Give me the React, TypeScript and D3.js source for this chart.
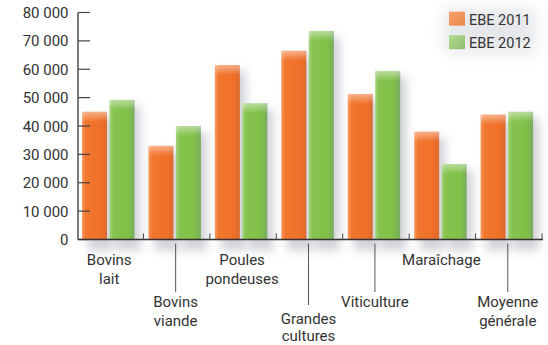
import React from "react";
import * as d3 from "d3";

const categories = ["Bovins lait", "Bovins viande", "Poules pondeuses", "Grandes cultures", "Viticulture", "Maraîchage", "Moyenne générale"];
const labelLines = [["Bovins", "lait"], ["Bovins", "viande"], ["Poules", "pondeuses"], ["Grandes", "cultures"], ["Viticulture"], ["Maraîchage"], ["Moyenne", "générale"]];
const labelLevel = [0, 1, 0, 2, 1, 0, 1];
const series = ["EBE 2011", "EBE 2012"];
const ebe2011 = [45000, 33000, 61500, 66500, 51300, 38000, 44000];
const ebe2012 = [49200, 40000, 48000, 73500, 59400, 26600, 45000];
const yTicks = [0, 10000, 20000, 30000, 40000, 50000, 60000, 70000, 80000];

const W = 548, H = 345;
const axisX = 78, axisRight = 543, baseY = 239.5, topY = 12.5;

export default function App() {
  const x = d3.scaleBand<string>().domain(categories).range([axisX, axisRight]).paddingInner(0).paddingOuter(0);
  const inner = d3.scaleBand<string>().domain(series).range([4, 56.5]).paddingInner(0.0909);
  const y = d3.scaleLinear().domain([0, 80000]).range([baseY, topY]);
  const fmt = (v: number) => d3.format(",")(v).replace(/,/g, " ");
  const colors = ["orange", "green"];
  const data = [ebe2011, ebe2012];
  const font = "Roboto, 'DejaVu Sans', sans-serif";
  const levelText = [[265, 284], [307, 326], [324, 341]];
  const levelLine = [0, 292, 305];
  const boundaries = categories.map((c) => (x(c) as number) + x.bandwidth());

  return (
    <svg width={W} height={H} style={{ position: "absolute", left: 0, top: 0 }} fontFamily={font}>
      <defs>
        <filter id="blur" x="-50%" y="-50%" width="200%" height="200%">
          <feGaussianBlur stdDeviation="5" />
        </filter>
        <filter id="blur2" x="-50%" y="-50%" width="200%" height="200%">
          <feGaussianBlur stdDeviation="8" />
        </filter>
        <linearGradient id="g-orange" x1="0" x2="1" y1="0" y2="0">
          <stop offset="0" stopColor="#f79a62" />
          <stop offset="0.15" stopColor="#f2772f" />
          <stop offset="0.75" stopColor="#f07028" />
          <stop offset="1" stopColor="#dc6a30" />
        </linearGradient>
        <linearGradient id="g-green" x1="0" x2="1" y1="0" y2="0">
          <stop offset="0" stopColor="#a6d27e" />
          <stop offset="0.15" stopColor="#86c34f" />
          <stop offset="0.75" stopColor="#80c048" />
          <stop offset="1" stopColor="#7aaa62" />
        </linearGradient>
        <linearGradient id="g-top" x1="0" x2="0" y1="0" y2="1">
          <stop offset="0" stopColor="#fff" stopOpacity="0.45" />
          <stop offset="1" stopColor="#fff" stopOpacity="0" />
        </linearGradient>
        <linearGradient id="leg-orange" x1="0" x2="1" y1="0" y2="1">
          <stop offset="0" stopColor="#f8a06a" />
          <stop offset="1" stopColor="#e88850" />
        </linearGradient>
        <linearGradient id="leg-green" x1="0" x2="1" y1="0" y2="1">
          <stop offset="0" stopColor="#b2dc90" />
          <stop offset="1" stopColor="#90bc70" />
        </linearGradient>
      </defs>

      {/* legend glow */}
      <rect x={445} y={8} width={90} height={45} fill="#b8bcc4" opacity={0.35} filter="url(#blur2)" />

      {/* bar shadows */}
      {categories.map((c, i) =>
        data.map((vals, s) => {
          const bx = (x(c) as number) + (inner(series[s]) as number);
          const by = y(vals[i]);
          return (
            <rect key={`sh-${i}-${s}`} x={bx + 6} y={by + 6} width={inner.bandwidth()} height={baseY - by + 5}
              fill="#8a909c" opacity={0.4} filter="url(#blur)" />
          );
        })
      )}

      {/* bars */}
      {categories.map((c, i) =>
        data.map((vals, s) => {
          const bx = (x(c) as number) + (inner(series[s]) as number);
          const by = y(vals[i]);
          const bw = inner.bandwidth();
          return (
            <g key={`b-${i}-${s}`}>
              <rect x={bx} y={by} width={bw} height={baseY - by} fill={`url(#g-${colors[s]})`} />
              <rect x={bx} y={by} width={bw} height={10} fill="url(#g-top)" />
            </g>
          );
        })
      )}

      {/* y axis */}
      <line x1={axisX} x2={axisX} y1={topY} y2={baseY} stroke="#333" strokeWidth={1.3} />
      {yTicks.map((t) => (
        <g key={`yt-${t}`}>
          <line x1={axisX} x2={axisX + 12} y1={y(t)} y2={y(t)} stroke="#444" strokeWidth={1.2} />
          <text x={68.5} y={y(t) + 5.5} textAnchor="end" fontSize={15} fill="#333">{fmt(t)}</text>
        </g>
      ))}

      {/* x axis */}
      <line x1={axisX} x2={axisRight} y1={baseY} y2={baseY} stroke="#333" strokeWidth={1.3} />
      {boundaries.map((bx, i) => (
        <line key={`xt-${i}`} x1={bx - 1} x2={bx - 1} y1={baseY} y2={baseY - 6} stroke="#444" strokeWidth={1} />
      ))}

      {/* category labels */}
      {categories.map((c, i) => {
        const cx = (x(c) as number) + x.bandwidth() / 2 - 2;
        const lvl = labelLevel[i];
        return (
          <g key={`cl-${i}`}>
            {lvl > 0 && (
              <line x1={cx} x2={cx} y1={baseY + 4} y2={levelLine[lvl]} stroke="#555" strokeWidth={1} />
            )}
            {labelLines[i].map((ln, k) => (
              <text key={k} x={cx} y={levelText[lvl][k]} textAnchor="middle" fontSize={15} fill="#333">{ln}</text>
            ))}
          </g>
        );
      })}

      {/* legend */}
      {series.map((s, k) => (
        <g key={`lg-${k}`}>
          <rect x={449} y={11.7 + k * 23.5} width={16} height={14} fill={`url(#leg-${colors[k]})`} />
          <text x={469} y={24.5 + k * 23.5} fontSize={14.5} fill="#333">{s}</text>
        </g>
      ))}
    </svg>
  );
}
